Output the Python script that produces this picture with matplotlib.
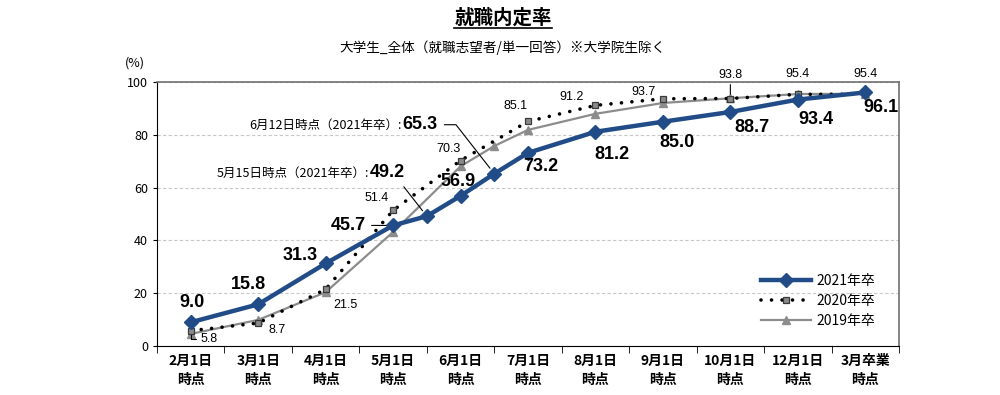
import matplotlib
matplotlib.use("Agg")
import matplotlib.pyplot as plt
from matplotlib.lines import Line2D

plt.rcParams['font.family'] = ['Noto Sans CJK JP', 'DejaVu Sans']

# --- data ---
categories = ['2月1日\n時点', '3月1日\n時点', '4月1日\n時点', '5月1日\n時点', '6月1日\n時点',
              '7月1日\n時点', '8月1日\n時点', '9月1日\n時点', '10月1日\n時点', '12月1日\n時点',
              '3月卒業\n時点']

# 2021年卒 (5月15日 and 6月12日 sit between the monthly points)
x_2021 = [0, 1, 2, 3, 3.5, 4, 4.5, 5, 6, 7, 8, 9, 10]
y_2021 = [9.0, 15.8, 31.3, 45.7, 49.2, 56.9, 65.3, 73.2, 81.2, 85.0, 88.7, 93.4, 96.1]

x_2020 = [0, 1, 2, 3, 4, 5, 6, 7, 8, 9, 10]
y_2020 = [5.8, 8.7, 21.5, 51.4, 70.3, 85.1, 91.2, 93.7, 93.8, 95.4, 95.4]

x_2019 = [0, 1, 2, 3, 4, 4.5, 5, 6, 7, 8, 9, 10]
y_2019 = [4.6, 9.9, 20.4, 43.2, 68.1, 75.8, 81.9, 88.0, 92.1, 93.9, 95.5, 95.6]

series_names = ['2021年卒', '2020年卒', '2019年卒']

navy = '#214C88'
gray = '#8C8C8C'

fig = plt.figure(figsize=(10, 3.95), dpi=100)
ax = fig.add_axes([0.157, 0.124, 0.742, 0.668])

l19, = ax.plot(x_2019, y_2019, color=gray, lw=1.6, marker='^', ms=5.5, mfc=gray, mec=gray,
               label=series_names[2], zorder=3)
l20, = ax.plot(x_2020, y_2020, color='black', lw=2.6, linestyle=(0, (0.01, 2.9)),
               dash_capstyle='round', marker='s', ms=5, mfc='#8A8A8A', mec='#3A3A3A', mew=0.9,
               label=series_names[1], zorder=4)
l21, = ax.plot(x_2021, y_2021, color=navy, lw=3.2, marker='D', ms=6.8, mfc=navy, mec=navy,
               label=series_names[0], zorder=5)

ax.set_xlim(-0.5, 10.5)
ax.set_ylim(0, 100)
ax.set_yticks(range(0, 101, 20))
ax.tick_params(axis='y', labelsize=9, length=3)
ax.set_xticks(range(len(categories)))
ax.set_xticklabels(categories, fontsize=10, fontweight='bold', linespacing=1.45)
ax.set_xticks([i - 0.5 for i in range(len(categories) + 1)], minor=True)
ax.tick_params(axis='x', which='major', length=0, pad=6)
ax.tick_params(axis='x', which='minor', length=5, direction='out')
ax.grid(axis='y', linestyle=(0, (3, 2)), color='#C8C8C8', lw=0.8)
ax.set_axisbelow(True)
for s in ['top', 'right']:
    ax.spines[s].set_color('#707070')
    ax.spines[s].set_linewidth(1.2)

ax.text(-0.03, 1.06, '(%)', transform=ax.transAxes, fontsize=9, ha='center')

# --- data labels ---
big = dict(fontsize=13, fontweight='bold', family=['Liberation Sans', 'Noto Sans CJK JP'])
small = dict(fontsize=9, family=['Liberation Sans', 'Noto Sans CJK JP'])

off_2021 = [(1, 20), (-10, 20), (-25, 8), None, None, (-3, 14), None,
            (13, -14), (16, -23), (14, -21), (22, -16), (18, -20), (16, -15)]
for x, y, off in zip(x_2021, y_2021, off_2021):
    if off is None:
        continue
    ax.annotate(f'{y:.1f}', (x, y), xytext=off, textcoords='offset pixels',
                ha='center', va='center', zorder=6, **big)

# 45.7 with short leader
ax.annotate(f'{y_2021[3]:.1f}', (x_2021[3], y_2021[3]), xytext=(-27, 0),
            textcoords='offset pixels', ha='right', va='center', zorder=6,
            arrowprops=dict(arrowstyle='-', color='black', lw=0.8, relpos=(1, 0.5),
                            shrinkA=2, shrinkB=5), **big)

# call-outs for 5月15日 / 6月12日
callouts = [(4, '5月15日時点（2021年卒）:', (-57, 44), 128),
            (6, '6月12日時点（2021年卒）:', (-92, 49), 128)]
for idx, prefix, off, ang in callouts:
    ax.annotate(f'{y_2021[idx]:.1f}', (x_2021[idx], y_2021[idx]), xytext=off,
                textcoords='offset pixels', ha='left', va='center', zorder=6,
                arrowprops=dict(arrowstyle='-', color='black', lw=0.8, relpos=(1, 0.5),
                                shrinkA=3, shrinkB=5,
                                connectionstyle=f'angle,angleA=0,angleB={ang},rad=0'),
                **big)
    ax.annotate(prefix, (x_2021[idx], y_2021[idx]), xytext=(off[0] - 1, off[1] - 1),
                textcoords='offset pixels', ha='right', va='center', fontsize=9, zorder=6)

off_2020 = [(18, -8), (19, -7), (20, -16), (-16, 12), (-12, 12), (-12, 15),
            (-24, 8), (-19, 7), (0, 24), (0, 20), (0, 20)]
for i, (x, y, off) in enumerate(zip(x_2020, y_2020, off_2020)):
    arrow = None
    if i == 0:
        arrow = dict(arrowstyle='-', color='black', lw=0.8, relpos=(0, 0.5), shrinkA=1,
                     shrinkB=3, connectionstyle='angle,angleA=0,angleB=90,rad=0')
    elif i == 8:
        arrow = dict(arrowstyle='-', color='black', lw=0.8, shrinkA=1, shrinkB=3)
    ax.annotate(f'{y:.1f}', (x, y), xytext=off, textcoords='offset pixels',
                ha='center', va='center', zorder=6, arrowprops=arrow, **small)

leg = ax.legend(handles=[l21, l20, l19], loc='lower right', bbox_to_anchor=(0.985, 0.02),
                frameon=False, fontsize=10, handlelength=3.6, labelspacing=0.45,
                handletextpad=0.4)

# --- titles ---
title = fig.text(0.503, 0.955, '就職内定率', ha='center', va='center', fontsize=14,
                 fontweight='bold')
fig.text(0.503, 0.88, '大学生_全体（就職志望者/単一回答）※大学院生除く', ha='center',
         va='center', fontsize=9.8)

fig.canvas.draw()
bb = title.get_window_extent()
fig.add_artist(Line2D([bb.x0, bb.x1], [bb.y0 - 1, bb.y0 - 1], transform=None,
                      color='black', lw=1.2))

fig.savefig('out.png', dpi=100)
